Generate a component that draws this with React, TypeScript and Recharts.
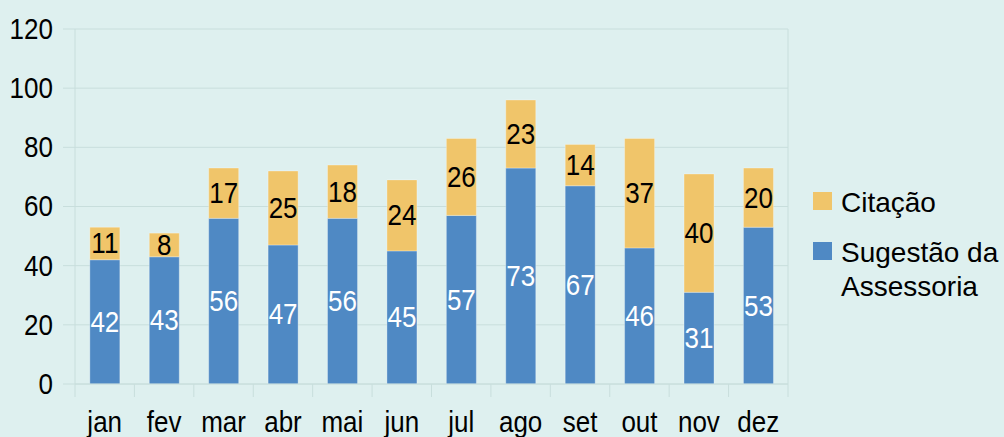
import React from "react";
import {
  BarChart,
  Bar,
  XAxis,
  YAxis,
  CartesianGrid,
  LabelList,
} from "recharts";

const months = ["jan", "fev", "mar", "abr", "mai", "jun", "jul", "ago", "set", "out", "nov", "dez"];
const sugestao = [42, 43, 56, 47, 56, 45, 57, 73, 67, 46, 31, 53];
const citacao = [11, 8, 17, 25, 18, 24, 26, 23, 14, 37, 40, 20];
const yTicks = [0, 20, 40, 60, 80, 100, 120];

const data = months.map((m, i) => ({
  month: m,
  sugestao: sugestao[i],
  citacao: citacao[i],
}));

const W = 1004;
const H = 437;
const MARGIN = { top: 29, right: 216, left: 0, bottom: 0 };
const Y_AXIS_W = 75;
const PLOT_W = W - MARGIN.left - MARGIN.right - Y_AXIS_W;
const BAND = PLOT_W / months.length;

const BG = "#def0ef";
const GRID = "#c8dedc";
const BLUE = "#4f89c4";
const GOLD = "#f0c56a";
const FONT = '"Liberation Sans", Arial, sans-serif';
const FS = 26;
const STRETCH = 1.1;

// text slightly stretched vertically, like the original export
function Txt({ x, y, anchor, fill, children }: any) {
  return (
    <g transform={`translate(${x},${y}) scale(1,${STRETCH})`}>
      <text
        x={0}
        y={0}
        textAnchor={anchor}
        dominantBaseline="central"
        fontFamily={FONT}
        fontSize={FS}
        fill={fill}
      >
        {children}
      </text>
    </g>
  );
}

function YTick({ x, y, payload }: any) {
  return (
    <Txt x={x} y={y} anchor="end" fill="#000">
      {payload.value}
    </Txt>
  );
}

function XTick({ x, y, payload, index }: any) {
  const last = index === months.length - 1;
  return (
    <g>
      <line x1={x - BAND / 2} x2={x - BAND / 2} y1={y} y2={y + 13} stroke={GRID} />
      {last && <line x1={x + BAND / 2} x2={x + BAND / 2} y1={y} y2={y + 13} stroke={GRID} />}
      <Txt x={x} y={y + 38} anchor="middle" fill="#000">
        {payload.value}
      </Txt>
    </g>
  );
}

const segLabel = (color: string) => (props: any) => {
  const { x, y, width, height, value } = props;
  return (
    <Txt x={x + width / 2} y={y + height / 2} anchor="middle" fill={color}>
      {value}
    </Txt>
  );
};

function LegendBox() {
  const item = (color: string, lines: string[]) => (
    <div style={{ display: "flex", alignItems: "flex-start", marginBottom: 16 }}>
      <div style={{ width: 19, height: 18, background: color, marginTop: 6, marginRight: 9 }} />
      <div>
        {lines.map((l) => (
          <div key={l} style={{ lineHeight: "34px" }}>{l}</div>
        ))}
      </div>
    </div>
  );
  return (
    <div
      style={{
        position: "absolute",
        left: 813,
        top: 186,
        fontFamily: FONT,
        fontSize: 28,
        color: "#000",
        whiteSpace: "nowrap",
      }}
    >
      {item(GOLD, ["Citação"])}
      {item(BLUE, ["Sugestão da", "Assessoria"])}
    </div>
  );
}

export default function App() {
  return (
    <div style={{ position: "absolute", left: 0, top: 0, width: W, height: H, background: BG, overflow: "hidden" }}>
      <BarChart width={W} height={H} data={data} margin={MARGIN} barCategoryGap="25%">
        <CartesianGrid
          stroke={GRID}
          vertical={true}
          verticalCoordinatesGenerator={({ offset }: any) => [offset.left + offset.width]}
        />
        <XAxis
          dataKey="month"
          height={53}
          tickSize={0}
          tickMargin={0}
          tickLine={false}
          axisLine={{ stroke: GRID }}
          tick={<XTick />}
          interval={0}
        />
        <YAxis
          width={Y_AXIS_W}
          domain={[0, 120]}
          ticks={yTicks}
          tickSize={12}
          tickMargin={10}
          tickLine={{ stroke: GRID }}
          axisLine={{ stroke: GRID }}
          tick={<YTick />}
          interval={0}
        />
        <Bar
          dataKey="sugestao"
          stackId="a"
          fill={BLUE}
          stroke="rgba(255,255,255,0.3)"
          isAnimationActive={false}
        >
          <LabelList dataKey="sugestao" content={segLabel("#fff")} />
        </Bar>
        <Bar
          dataKey="citacao"
          stackId="a"
          fill={GOLD}
          stroke="rgba(255,255,255,0.3)"
          isAnimationActive={false}
        >
          <LabelList dataKey="citacao" content={segLabel("#000")} />
        </Bar>
      </BarChart>
      <LegendBox />
    </div>
  );
}
